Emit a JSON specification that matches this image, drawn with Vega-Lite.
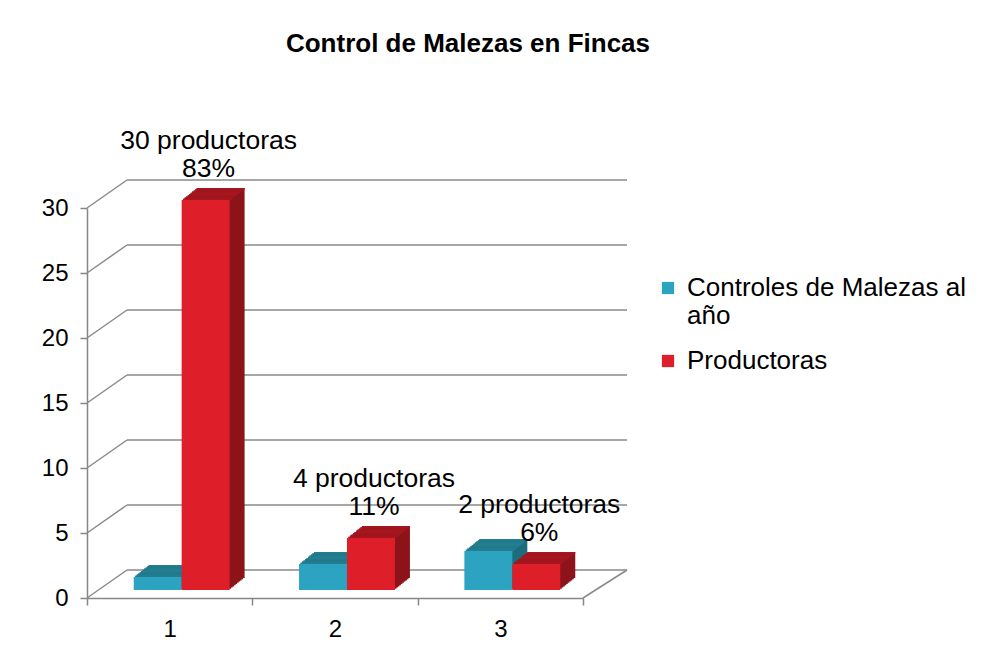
{
  "$schema": "https://vega.github.io/schema/vega-lite/v6.json",
  "width": 496,
  "height": 390,
  "autosize": "none",
  "padding": {"left": 87, "top": 208, "right": 402, "bottom": 70},
  "background": "white",
  "title": {
    "text": "Control de Malezas en Fincas",
    "font": "Liberation Sans",
    "fontSize": 26,
    "fontWeight": "bold",
    "color": "#000000",
    "anchor": "middle",
    "dx": 133,
    "offset": 71
  },
  "config": {
    "font": "Liberation Sans",
    "view": {"stroke": null},
    "axisY": {
      "domainColor": "#868686",
      "domainWidth": 1.5,
      "tickColor": "#868686",
      "tickWidth": 1.5,
      "tickSize": 7,
      "tickCount": 6,
      "labelFontSize": 24,
      "labelColor": "#000000",
      "labelPadding": 12,
      "grid": false,
      "title": null
    },
    "axisX": {
      "domainColor": "#868686",
      "domainWidth": 1.5,
      "tickColor": "#868686",
      "tickWidth": 1.5,
      "tickSize": 7,
      "tickBand": "extent",
      "labelFontSize": 24,
      "labelColor": "#000000",
      "labelPadding": 12,
      "labelAngle": 0,
      "grid": false,
      "title": null
    }
  },
  "datasets": {
    "bars": [
      {"cat": "1", "serie": "Controles de Malezas al año", "valor": 1, "etiqueta": ""},
      {"cat": "1", "serie": "Productoras", "valor": 30, "etiqueta": "30 productoras\n83%"},
      {"cat": "2", "serie": "Controles de Malezas al año", "valor": 2, "etiqueta": ""},
      {"cat": "2", "serie": "Productoras", "valor": 4, "etiqueta": "4 productoras\n11%"},
      {"cat": "3", "serie": "Controles de Malezas al año", "valor": 3, "etiqueta": ""},
      {"cat": "3", "serie": "Productoras", "valor": 2, "etiqueta": "2 productoras\n6%"}
    ],
    "grid": [{"v": 0}, {"v": 5}, {"v": 10}, {"v": 15}, {"v": 20}, {"v": 25}, {"v": 30}]
  },
  "layer": [
    {
      "data": {"name": "grid"},
      "mark": {"type": "rule", "color": "#8a8a8a", "strokeWidth": 1.5, "xOffset": 40, "x2Offset": 44, "yOffset": -28, "y2Offset": -28},
      "encoding": {
        "x": {"datum": 0, "type": "quantitative", "scale": {"domain": [0, 3], "nice": false, "zero": false}, "axis": null},
        "x2": {"datum": 3},
        "y": {"field": "v", "type": "quantitative", "scale": {"domain": [0, 30], "nice": false}},
        "y2": {"field": "v"}
      }
    },
    {
      "data": {"name": "grid"},
      "mark": {"type": "rule", "color": "#8a8a8a", "strokeWidth": 1.5, "x2Offset": 40, "y2Offset": -28},
      "encoding": {
        "x": {"datum": 0, "type": "quantitative", "scale": {"domain": [0, 3], "nice": false, "zero": false}, "axis": null},
        "x2": {"datum": 0},
        "y": {"field": "v", "type": "quantitative", "scale": {"domain": [0, 30], "nice": false}},
        "y2": {"field": "v"}
      }
    },
    {
      "data": {"values": [{"v": 0}]},
      "mark": {"type": "rule", "color": "#8a8a8a", "strokeWidth": 1.5, "x2Offset": 44, "y2Offset": -28},
      "encoding": {
        "x": {"datum": 3, "type": "quantitative", "scale": {"domain": [0, 3], "nice": false, "zero": false}, "axis": null},
        "x2": {"datum": 3},
        "y": {"field": "v", "type": "quantitative", "scale": {"domain": [0, 30], "nice": false}},
        "y2": {"field": "v"}
      }
    },
    {"data": {"name": "bars"}, "mark": {"type": "bar", "yOffset": -20, "y2Offset": -20},
      "encoding": {"x": {"field": "cat", "type": "nominal", "scale": {"paddingInner": 0, "paddingOuter": 0}, "axis": null},
        "xOffset": {"field": "serie", "scale": {"paddingInner": 0, "paddingOuter": 0.724, "align": 0.8887}},
        "y": {"field": "valor", "type": "quantitative", "scale": {"domain": [0, 30], "nice": false}},
        "color": {"condition": {"test": "datum.serie == 'Productoras'", "value": "#8C141A"}, "value": "#1D6D7D"}}},
    {"data": {"name": "bars"}, "mark": {"type": "bar", "yOffset": -18.8, "y2Offset": -18.8},
      "encoding": {"x": {"field": "cat", "type": "nominal", "scale": {"paddingInner": 0, "paddingOuter": 0}, "axis": null},
        "xOffset": {"field": "serie", "scale": {"paddingInner": 0, "paddingOuter": 0.724, "align": 0.8671}},
        "y": {"field": "valor", "type": "quantitative", "scale": {"domain": [0, 30], "nice": false}},
        "color": {"condition": {"test": "datum.serie == 'Productoras'", "value": "#8C141A"}, "value": "#1D6D7D"}}},
    {"data": {"name": "bars"}, "mark": {"type": "bar", "yOffset": -17.6, "y2Offset": -17.6},
      "encoding": {"x": {"field": "cat", "type": "nominal", "scale": {"paddingInner": 0, "paddingOuter": 0}, "axis": null},
        "xOffset": {"field": "serie", "scale": {"paddingInner": 0, "paddingOuter": 0.724, "align": 0.8455}},
        "y": {"field": "valor", "type": "quantitative", "scale": {"domain": [0, 30], "nice": false}},
        "color": {"condition": {"test": "datum.serie == 'Productoras'", "value": "#8C141A"}, "value": "#1D6D7D"}}},
    {"data": {"name": "bars"}, "mark": {"type": "bar", "yOffset": -16.4, "y2Offset": -16.4},
      "encoding": {"x": {"field": "cat", "type": "nominal", "scale": {"paddingInner": 0, "paddingOuter": 0}, "axis": null},
        "xOffset": {"field": "serie", "scale": {"paddingInner": 0, "paddingOuter": 0.724, "align": 0.8239}},
        "y": {"field": "valor", "type": "quantitative", "scale": {"domain": [0, 30], "nice": false}},
        "color": {"condition": {"test": "datum.serie == 'Productoras'", "value": "#8C141A"}, "value": "#1D6D7D"}}},
    {"data": {"name": "bars"}, "mark": {"type": "bar", "yOffset": -15.2, "y2Offset": -15.2},
      "encoding": {"x": {"field": "cat", "type": "nominal", "scale": {"paddingInner": 0, "paddingOuter": 0}, "axis": null},
        "xOffset": {"field": "serie", "scale": {"paddingInner": 0, "paddingOuter": 0.724, "align": 0.8023}},
        "y": {"field": "valor", "type": "quantitative", "scale": {"domain": [0, 30], "nice": false}},
        "color": {"condition": {"test": "datum.serie == 'Productoras'", "value": "#8C141A"}, "value": "#1D6D7D"}}},
    {"data": {"name": "bars"}, "mark": {"type": "bar", "yOffset": -14, "y2Offset": -14},
      "encoding": {"x": {"field": "cat", "type": "nominal", "scale": {"paddingInner": 0, "paddingOuter": 0}, "axis": null},
        "xOffset": {"field": "serie", "scale": {"paddingInner": 0, "paddingOuter": 0.724, "align": 0.7806}},
        "y": {"field": "valor", "type": "quantitative", "scale": {"domain": [0, 30], "nice": false}},
        "color": {"condition": {"test": "datum.serie == 'Productoras'", "value": "#8C141A"}, "value": "#1D6D7D"}}},
    {"data": {"name": "bars"}, "mark": {"type": "bar", "yOffset": -12.8, "y2Offset": -12.8},
      "encoding": {"x": {"field": "cat", "type": "nominal", "scale": {"paddingInner": 0, "paddingOuter": 0}, "axis": null},
        "xOffset": {"field": "serie", "scale": {"paddingInner": 0, "paddingOuter": 0.724, "align": 0.759}},
        "y": {"field": "valor", "type": "quantitative", "scale": {"domain": [0, 30], "nice": false}},
        "color": {"condition": {"test": "datum.serie == 'Productoras'", "value": "#8C141A"}, "value": "#1D6D7D"}}},
    {"data": {"name": "bars"}, "mark": {"type": "bar", "yOffset": -11.6, "y2Offset": -11.6},
      "encoding": {"x": {"field": "cat", "type": "nominal", "scale": {"paddingInner": 0, "paddingOuter": 0}, "axis": null},
        "xOffset": {"field": "serie", "scale": {"paddingInner": 0, "paddingOuter": 0.724, "align": 0.7374}},
        "y": {"field": "valor", "type": "quantitative", "scale": {"domain": [0, 30], "nice": false}},
        "color": {"condition": {"test": "datum.serie == 'Productoras'", "value": "#8C141A"}, "value": "#1D6D7D"}}},
    {"data": {"name": "bars"}, "mark": {"type": "bar", "yOffset": -10.4, "y2Offset": -10.4},
      "encoding": {"x": {"field": "cat", "type": "nominal", "scale": {"paddingInner": 0, "paddingOuter": 0}, "axis": null},
        "xOffset": {"field": "serie", "scale": {"paddingInner": 0, "paddingOuter": 0.724, "align": 0.7158}},
        "y": {"field": "valor", "type": "quantitative", "scale": {"domain": [0, 30], "nice": false}},
        "color": {"condition": {"test": "datum.serie == 'Productoras'", "value": "#8C141A"}, "value": "#1D6D7D"}}},
    {"data": {"name": "bars"}, "mark": {"type": "bar", "yOffset": -9.2, "y2Offset": -9.2},
      "encoding": {"x": {"field": "cat", "type": "nominal", "scale": {"paddingInner": 0, "paddingOuter": 0}, "axis": null},
        "xOffset": {"field": "serie", "scale": {"paddingInner": 0, "paddingOuter": 0.724, "align": 0.6942}},
        "y": {"field": "valor", "type": "quantitative", "scale": {"domain": [0, 30], "nice": false}},
        "color": {"condition": {"test": "datum.serie == 'Productoras'", "value": "#8C141A"}, "value": "#1D6D7D"}}},

    {"data": {"name": "bars"}, "mark": {"type": "bar", "yOffset": -20, "y2Offset": -18.6},
      "encoding": {"x": {"field": "cat", "type": "nominal", "scale": {"paddingInner": 0, "paddingOuter": 0}, "axis": null},
        "xOffset": {"field": "serie", "scale": {"paddingInner": 0, "paddingOuter": 0.724, "align": 0.8887}},
        "y": {"field": "valor", "type": "quantitative", "scale": {"domain": [0, 30], "nice": false}}, "y2": {"field": "valor"},
        "color": {"condition": {"test": "datum.serie == 'Productoras'", "value": "#A6161F"}, "value": "#237E90"}}},
    {"data": {"name": "bars"}, "mark": {"type": "bar", "yOffset": -18.8, "y2Offset": -17.4},
      "encoding": {"x": {"field": "cat", "type": "nominal", "scale": {"paddingInner": 0, "paddingOuter": 0}, "axis": null},
        "xOffset": {"field": "serie", "scale": {"paddingInner": 0, "paddingOuter": 0.724, "align": 0.8671}},
        "y": {"field": "valor", "type": "quantitative", "scale": {"domain": [0, 30], "nice": false}}, "y2": {"field": "valor"},
        "color": {"condition": {"test": "datum.serie == 'Productoras'", "value": "#A6161F"}, "value": "#237E90"}}},
    {"data": {"name": "bars"}, "mark": {"type": "bar", "yOffset": -17.6, "y2Offset": -16.2},
      "encoding": {"x": {"field": "cat", "type": "nominal", "scale": {"paddingInner": 0, "paddingOuter": 0}, "axis": null},
        "xOffset": {"field": "serie", "scale": {"paddingInner": 0, "paddingOuter": 0.724, "align": 0.8455}},
        "y": {"field": "valor", "type": "quantitative", "scale": {"domain": [0, 30], "nice": false}}, "y2": {"field": "valor"},
        "color": {"condition": {"test": "datum.serie == 'Productoras'", "value": "#A6161F"}, "value": "#237E90"}}},
    {"data": {"name": "bars"}, "mark": {"type": "bar", "yOffset": -16.4, "y2Offset": -15},
      "encoding": {"x": {"field": "cat", "type": "nominal", "scale": {"paddingInner": 0, "paddingOuter": 0}, "axis": null},
        "xOffset": {"field": "serie", "scale": {"paddingInner": 0, "paddingOuter": 0.724, "align": 0.8239}},
        "y": {"field": "valor", "type": "quantitative", "scale": {"domain": [0, 30], "nice": false}}, "y2": {"field": "valor"},
        "color": {"condition": {"test": "datum.serie == 'Productoras'", "value": "#A6161F"}, "value": "#237E90"}}},
    {"data": {"name": "bars"}, "mark": {"type": "bar", "yOffset": -15.2, "y2Offset": -13.8},
      "encoding": {"x": {"field": "cat", "type": "nominal", "scale": {"paddingInner": 0, "paddingOuter": 0}, "axis": null},
        "xOffset": {"field": "serie", "scale": {"paddingInner": 0, "paddingOuter": 0.724, "align": 0.8023}},
        "y": {"field": "valor", "type": "quantitative", "scale": {"domain": [0, 30], "nice": false}}, "y2": {"field": "valor"},
        "color": {"condition": {"test": "datum.serie == 'Productoras'", "value": "#A6161F"}, "value": "#237E90"}}},
    {"data": {"name": "bars"}, "mark": {"type": "bar", "yOffset": -14, "y2Offset": -12.6},
      "encoding": {"x": {"field": "cat", "type": "nominal", "scale": {"paddingInner": 0, "paddingOuter": 0}, "axis": null},
        "xOffset": {"field": "serie", "scale": {"paddingInner": 0, "paddingOuter": 0.724, "align": 0.7806}},
        "y": {"field": "valor", "type": "quantitative", "scale": {"domain": [0, 30], "nice": false}}, "y2": {"field": "valor"},
        "color": {"condition": {"test": "datum.serie == 'Productoras'", "value": "#A6161F"}, "value": "#237E90"}}},
    {"data": {"name": "bars"}, "mark": {"type": "bar", "yOffset": -12.8, "y2Offset": -11.4},
      "encoding": {"x": {"field": "cat", "type": "nominal", "scale": {"paddingInner": 0, "paddingOuter": 0}, "axis": null},
        "xOffset": {"field": "serie", "scale": {"paddingInner": 0, "paddingOuter": 0.724, "align": 0.759}},
        "y": {"field": "valor", "type": "quantitative", "scale": {"domain": [0, 30], "nice": false}}, "y2": {"field": "valor"},
        "color": {"condition": {"test": "datum.serie == 'Productoras'", "value": "#A6161F"}, "value": "#237E90"}}},
    {"data": {"name": "bars"}, "mark": {"type": "bar", "yOffset": -11.6, "y2Offset": -10.2},
      "encoding": {"x": {"field": "cat", "type": "nominal", "scale": {"paddingInner": 0, "paddingOuter": 0}, "axis": null},
        "xOffset": {"field": "serie", "scale": {"paddingInner": 0, "paddingOuter": 0.724, "align": 0.7374}},
        "y": {"field": "valor", "type": "quantitative", "scale": {"domain": [0, 30], "nice": false}}, "y2": {"field": "valor"},
        "color": {"condition": {"test": "datum.serie == 'Productoras'", "value": "#A6161F"}, "value": "#237E90"}}},
    {"data": {"name": "bars"}, "mark": {"type": "bar", "yOffset": -10.4, "y2Offset": -9},
      "encoding": {"x": {"field": "cat", "type": "nominal", "scale": {"paddingInner": 0, "paddingOuter": 0}, "axis": null},
        "xOffset": {"field": "serie", "scale": {"paddingInner": 0, "paddingOuter": 0.724, "align": 0.7158}},
        "y": {"field": "valor", "type": "quantitative", "scale": {"domain": [0, 30], "nice": false}}, "y2": {"field": "valor"},
        "color": {"condition": {"test": "datum.serie == 'Productoras'", "value": "#A6161F"}, "value": "#237E90"}}},
    {"data": {"name": "bars"}, "mark": {"type": "bar", "yOffset": -9.2, "y2Offset": -7.8},
      "encoding": {"x": {"field": "cat", "type": "nominal", "scale": {"paddingInner": 0, "paddingOuter": 0}, "axis": null},
        "xOffset": {"field": "serie", "scale": {"paddingInner": 0, "paddingOuter": 0.724, "align": 0.6942}},
        "y": {"field": "valor", "type": "quantitative", "scale": {"domain": [0, 30], "nice": false}}, "y2": {"field": "valor"},
        "color": {"condition": {"test": "datum.serie == 'Productoras'", "value": "#A6161F"}, "value": "#237E90"}}},
    {
      "data": {"name": "bars"},
      "mark": {"type": "bar", "yOffset": -8, "y2Offset": -8},
      "encoding": {
        "x": {"field": "cat", "type": "nominal", "scale": {"paddingInner": 0, "paddingOuter": 0}},
        "xOffset": {"field": "serie", "scale": {"paddingInner": 0, "paddingOuter": 0.724, "align": 0.6727}},
        "y": {"field": "valor", "type": "quantitative", "scale": {"domain": [0, 30], "nice": false}},
        "color": {
          "field": "serie",
          "type": "nominal",
          "scale": {"domain": ["Controles de Malezas al año", "Productoras"], "range": ["#2CA3C0", "#DE1F2A"]},
          "legend": {
            "title": null,
            "orient": "none",
            "legendX": 568,
            "legendY": 67,
            "symbolType": "square",
            "symbolSize": 150,
            "symbolStrokeWidth": 0,
            "labelFontSize": 26,
            "labelColor": "#000000",
            "labelLimit": 400,
            "labelOffset": 6,
            "rowPadding": 19,
            "labelExpr": "datum.label == 'Controles de Malezas al año' ? [' Controles de Malezas al', 'año'] : datum.label"
          }
        }
      }
    },
    {
      "data": {"name": "bars"},
      "mark": {"type": "text", "dy": -53, "fontSize": 26.5, "lineHeight": 28, "lineBreak": "\n", "baseline": "bottom", "align": "center", "color": "#000000"},
      "encoding": {
        "x": {"field": "cat", "type": "nominal", "scale": {"paddingInner": 0, "paddingOuter": 0}, "axis": null},
        "xOffset": {"field": "serie", "scale": {"paddingInner": 0, "paddingOuter": 0.724, "align": 0.553}},
        "y": {"field": "valor", "type": "quantitative", "scale": {"domain": [0, 30], "nice": false}},
        "text": {"field": "etiqueta"}
      }
    }
  ],
  "resolve": {"scale": {"x": "independent", "xOffset": "independent"}}
}
